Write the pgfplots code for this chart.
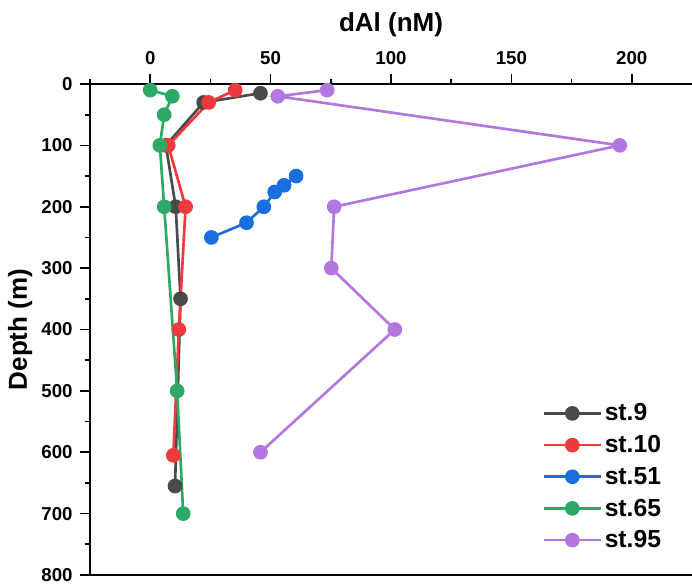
\documentclass[border=0pt]{standalone}
\usepackage{fontspec}
\setmainfont{Liberation Sans}
\usepackage{pgfplots}
\pgfplotsset{compat=1.18}

\definecolor{c9}{HTML}{4A4A4A}
\definecolor{c10}{HTML}{EE3A3C}
\definecolor{c51}{HTML}{1A6EE0}
\definecolor{c65}{HTML}{2EA865}
\definecolor{c95}{HTML}{B278DF}

\begin{document}
\begin{tikzpicture}
\useasboundingbox (-67.5pt,-7.5pt) rectangle (451.5pt,431.25pt);
\begin{axis}[
    at={(0,0)}, anchor=south west,
    scale only axis,
    width=451.5pt,
    height=368.25pt,
    xmin=-25, xmax=225,
    ymin=0, ymax=800,
    y dir=reverse,
    clip=false,
    axis x line*=top,
    axis y line*=left,
    axis line style={draw=none},
    xtick={0,50,100,150,200},
    minor xtick={-25,25,75,125,175},
    ytick={0,100,...,800},
    minor ytick={50,150,...,750},
    tick align=outside,
    major tick length=7.5pt,
    minor tick length=4pt,
    every tick/.style={line width=1.3pt, black},
    tick label style={font=\fontsize{14}{15}\selectfont\bfseries},
    xticklabel style={yshift=3.5pt},
    yticklabel style={xshift=-2pt},
    /pgf/number format/assume math mode=true,
    xlabel={dAl (nM)},
    ylabel={Depth (m)},
    label style={font=\fontsize{19.5}{20}\selectfont\bfseries},
    xlabel style={yshift=4pt},
    ylabel style={yshift=0pt},
    every axis plot/.append style={line width=2pt, mark=*, mark size=4.5pt},
    legend style={draw=none, fill=none, at={(0.96,0.04)}, anchor=south east,
        font=\fontsize{18.5}{19}\selectfont\bfseries, row sep=5.4pt},
    legend cell align=left,
    legend image code/.code={
        \draw[#1] (0cm,0cm) -- (1.5cm,0cm);
        \draw[#1, mark repeat=1] plot coordinates {(0.75cm,0cm)};
    },
]
\draw[line width=1.8pt] (axis cs:225,0) -- (axis cs:-25,0) -- (axis cs:-25,800) -- (axis cs:225,800);
\addplot[color=c9, mark options={fill=c9}] coordinates {
(45.8,15) (22.2,30) (6.5,100) (10.6,200) (12.6,350) (10.3,655)};
\addlegendentry{st.9}
\addplot[color=c10, mark options={fill=c10}] coordinates {
(35.3,10) (24.3,30) (7.5,100) (14.7,200) (11.9,400) (9.6,605)};
\addlegendentry{st.10}
\addplot[color=c51, mark options={fill=c51}] coordinates {
(60.6,150) (55.6,165) (51.7,176) (47.2,200) (40,226) (25.4,250)};
\addlegendentry{st.51}
\addplot[color=c65, mark options={fill=c65}] coordinates {
(0,10) (9.2,20) (5.8,50) (4,100) (5.8,200) (11.2,500) (13.7,700)};
\addlegendentry{st.65}
\addplot[color=c95, mark options={fill=c95}] coordinates {
(73.5,10) (53,20) (195,100) (76.4,200) (75.2,300) (101.6,400) (45.8,600)};
\addlegendentry{st.95}
\end{axis}
\end{tikzpicture}
\end{document}
